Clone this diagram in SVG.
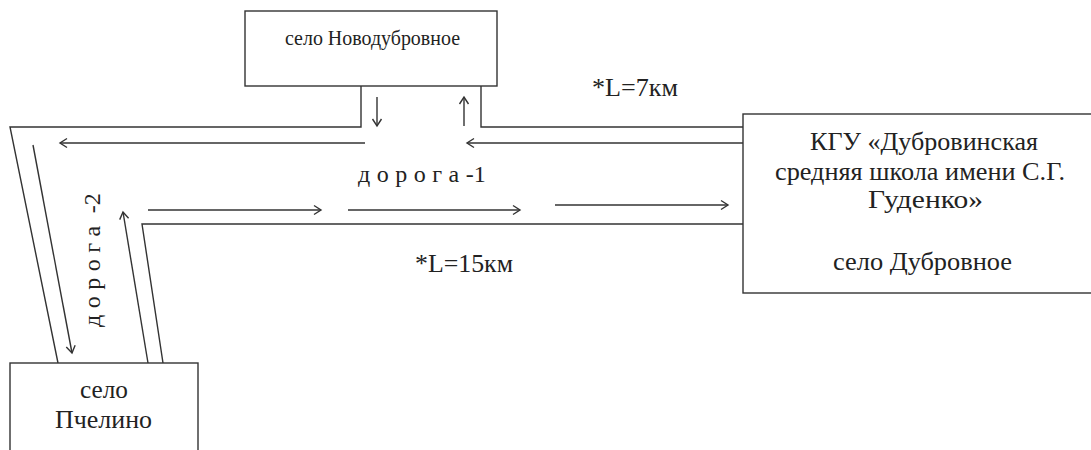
<svg xmlns="http://www.w3.org/2000/svg" width="1091" height="450" viewBox="0 0 1091 450">
<style>
.box{fill:#fff;stroke:#333;stroke-width:1.4}
.ln{fill:none;stroke:#333;stroke-width:1.4}
.ar{fill:none;stroke:#333;stroke-width:1.4;marker-end:url(#ah)}
text{font-family:'Liberation Serif','Times New Roman',serif;font-size:25px;fill:#222}
.road{font-size:24px}
.sp{letter-spacing:6.5px}
</style>
<defs>
<marker id="ah" markerUnits="userSpaceOnUse" markerWidth="14" markerHeight="14" refX="10" refY="6" orient="auto">
<path d="M3,1.5 L10,6 L3,10.5" fill="none" stroke="#333" stroke-width="1.4"/>
</marker>
</defs>
<g id="connectors">
<polyline class="ln" points="361,86 361,127 10,127 58,363"/>
<polyline class="ln" points="481,86 481,127 743,127"/>
<polyline class="ln" points="743,224 142,224 163,363"/>
<line class="ar" x1="365" y1="143" x2="60" y2="143"/>
<line class="ar" x1="743" y1="143" x2="467" y2="143"/>
<line class="ar" x1="377" y1="97" x2="377" y2="126"/>
<line class="ar" x1="464" y1="126" x2="464" y2="97"/>
<line class="ar" x1="33" y1="145" x2="72" y2="353"/>
<line class="ar" x1="148" y1="363" x2="123" y2="212"/>
<line class="ar" x1="148" y1="210" x2="321" y2="210"/>
<line class="ar" x1="348" y1="210" x2="520" y2="210"/>
<line class="ar" x1="555" y1="205" x2="728" y2="205"/>
</g>
<g id="labels">
<text x="592" y="96" textLength="86" lengthAdjust="spacingAndGlyphs">*L=7км</text>
<text class="road" x="358" y="182"><tspan class="sp">дорога</tspan>-1</text>
<text x="415" y="272" textLength="98" lengthAdjust="spacingAndGlyphs">*L=15км</text>
<text class="road" transform="translate(100,327) rotate(-90)"><tspan class="sp">дорога</tspan> -2</text>
</g>
<g id="node-novodubrovnoe">
<rect class="box" x="245" y="11" width="252" height="75"/>
<text x="285" y="45" style="font-size:20px" textLength="175" lengthAdjust="spacingAndGlyphs">село Новодубровное</text>
</g>
<g id="node-school">
<rect class="box" x="743" y="114" width="360" height="179"/>
<text x="810" y="150" textLength="228" lengthAdjust="spacingAndGlyphs">КГУ «Дубровинская</text>
<text x="775" y="180" textLength="290" lengthAdjust="spacingAndGlyphs">средняя школа имени С.Г.</text>
<text x="868" y="208" textLength="115" lengthAdjust="spacingAndGlyphs">Гуденко»</text>
<text x="833" y="270" textLength="179" lengthAdjust="spacingAndGlyphs">село Дубровное</text>
</g>
<g id="node-pchelino">
<rect class="box" x="10" y="363" width="188" height="100"/>
<text x="80" y="398" textLength="48" lengthAdjust="spacingAndGlyphs">село</text>
<text x="55" y="428" textLength="97" lengthAdjust="spacingAndGlyphs">Пчелино</text>
</g>
</svg>
